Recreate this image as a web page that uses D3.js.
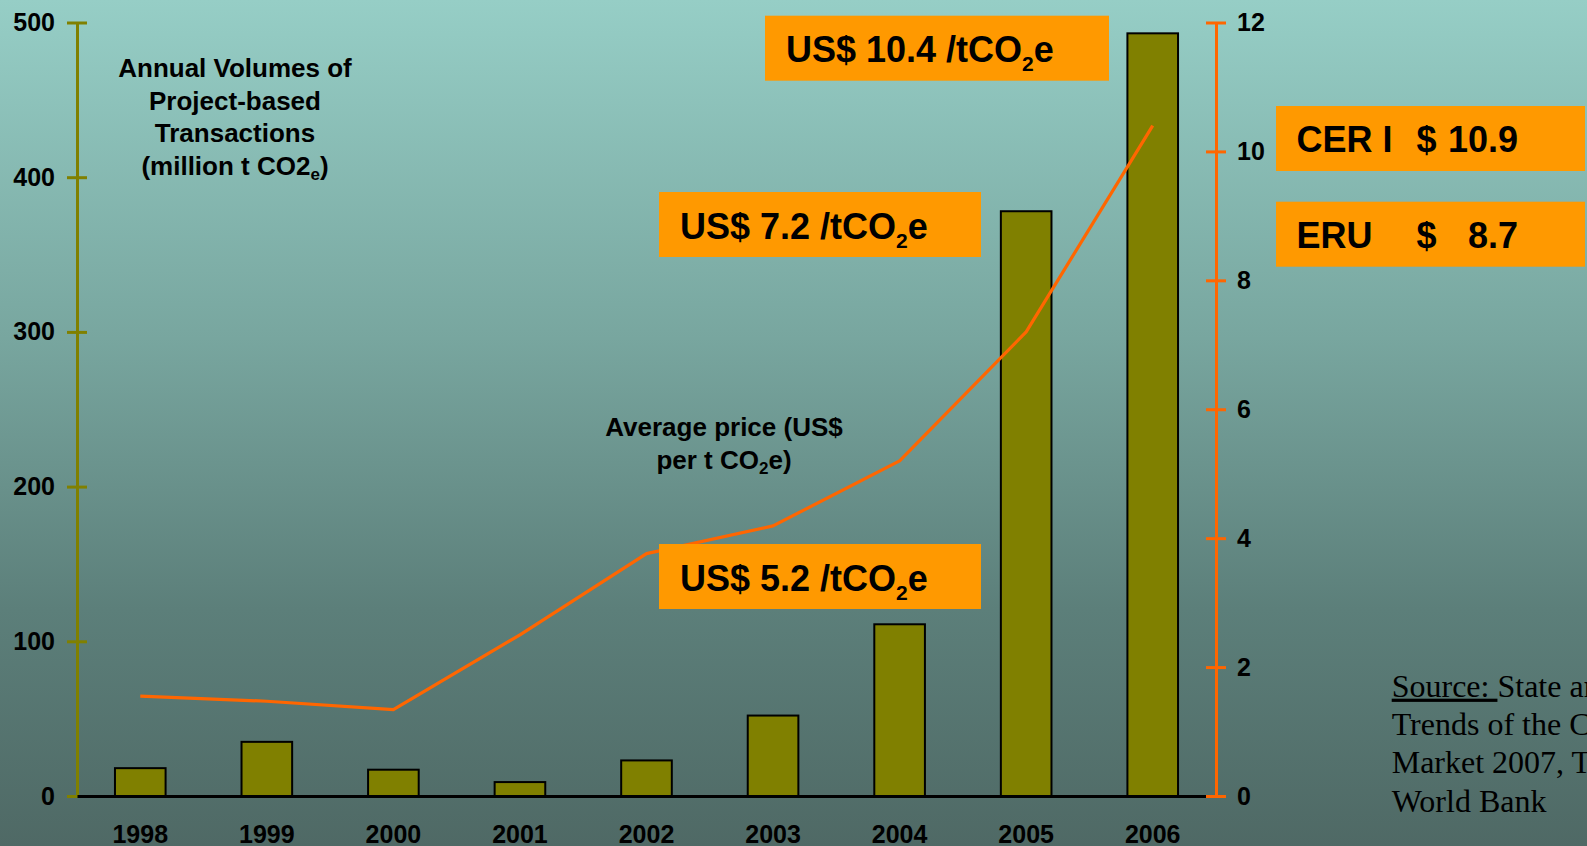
<!DOCTYPE html>
<html>
<head>
<meta charset="utf-8">
<script src="https://cdn.jsdelivr.net/npm/d3@7"></script>
<style>
  html, body { margin: 0; padding: 0; overflow: hidden; }
  svg { display: block; }
  text { font-family: "Liberation Sans", Arial, sans-serif; font-weight: bold; fill: #000; }
  .serif { font-family: "Liberation Serif", "Times New Roman", serif; font-weight: normal; }
</style>
</head>
<body>
<svg id="chart" width="1587" height="846"></svg>
<script>
// Project-based transactions: annual volumes (million t CO2e) and average price (US$/t CO2e)
const years = ["1998", "1999", "2000", "2001", "2002", "2003", "2004", "2005", "2006"];
const volumes = [18, 35, 17, 9, 23, 52, 111, 378, 493];
const prices = [1.55, 1.47, 1.34, 2.5, 3.76, 4.19, 5.2, 7.2, 10.4];
const volumeTicks = [0, 100, 200, 300, 400, 500];
const priceTicks = [0, 2, 4, 6, 8, 10, 12];
const priceCallouts = [
  { year: "2006", text: "US$ 10.4 /tCO", sub: "2", tail: "e" },
  { year: "2005", text: "US$ 7.2 /tCO", sub: "2", tail: "e" },
  { year: "2004", text: "US$ 5.2 /tCO", sub: "2", tail: "e" }
];
const unitPrices = [
  { name: "CER I", cur: "$", val: "10.9" },
  { name: "ERU", cur: "$", val: "8.7" }
];
const sourceLines = ["State and", "Trends of the Carbon", "Market 2007, The", "World Bank"];

const W = 1587, H = 846;
const plotLeft = 77, plotRight = 1216, plotTop = 22.5, plotBottom = 796;
const olive = "#808000", orange = "#FF6600", boxFill = "#FF9900";

const svg = d3.select("#chart");

// background gradient
const defs = svg.append("defs");
const grad = defs.append("linearGradient").attr("id", "bg")
  .attr("x1", 0).attr("y1", 0).attr("x2", 0).attr("y2", 1);
grad.append("stop").attr("offset", "0%").attr("stop-color", "#96CEC6");
grad.append("stop").attr("offset", "40%").attr("stop-color", "#78A69F");
grad.append("stop").attr("offset", "72%").attr("stop-color", "#5C7F7A");
grad.append("stop").attr("offset", "100%").attr("stop-color", "#4F6965");
svg.append("rect").attr("width", W).attr("height", H).attr("fill", "url(#bg)");

const x = d3.scaleBand().domain(years).range([plotLeft, plotRight]).paddingInner(0.6).paddingOuter(0.3);
const yL = d3.scaleLinear().domain([0, 500]).range([plotBottom, plotTop]);
const yR = d3.scaleLinear().domain([0, 12]).range([plotBottom, plotTop]);

// bars
svg.append("g").selectAll("rect").data(years).join("rect")
  .attr("x", d => x(d))
  .attr("y", (d, i) => yL(volumes[i]))
  .attr("width", x.bandwidth())
  .attr("height", (d, i) => plotBottom - yL(volumes[i]))
  .attr("fill", olive)
  .attr("stroke", "#000")
  .attr("stroke-width", 2);

function styleTickText(g) {
  g.selectAll(".tick text")
    .style("font-size", "25px")
    .style("font-family", "'Liberation Sans', Arial, sans-serif")
    .style("font-weight", "bold")
    .attr("fill", "#000");
}

// left axis (volumes)
const gL = svg.append("g").attr("transform", `translate(${plotLeft},0)`)
  .call(d3.axisLeft(yL).tickValues(volumeTicks).tickSize(0).tickPadding(22));
gL.select(".domain").attr("stroke", olive).attr("stroke-width", 3);
gL.selectAll(".tick line").attr("x1", -10).attr("x2", 10).attr("stroke", olive).attr("stroke-width", 3);
styleTickText(gL);

// bottom axis (years)
const gX = svg.append("g").attr("transform", `translate(0,${plotBottom})`)
  .call(d3.axisBottom(x).tickSize(0).tickPadding(29));
gX.select(".domain").attr("stroke", "#000").attr("stroke-width", 3);
styleTickText(gX);

// price line
const line = d3.line().x((d, i) => x(years[i]) + x.bandwidth() / 2).y(d => yR(d));
svg.append("path").datum(prices).attr("d", line)
  .attr("fill", "none").attr("stroke", orange).attr("stroke-width", 3.2).attr("stroke-linejoin", "round");

// right axis (prices)
const gR = svg.append("g").attr("transform", `translate(${plotRight},0)`)
  .call(d3.axisRight(yR).tickValues(priceTicks).tickSize(0).tickPadding(21));
gR.select(".domain").attr("stroke", orange).attr("stroke-width", 3);
gR.selectAll(".tick line").attr("x1", -10).attr("x2", 10).attr("stroke", orange).attr("stroke-width", 3);
styleTickText(gR);

// axis titles
const volTitle = svg.append("text").attr("text-anchor", "middle").style("font-size", "26px");
["Annual Volumes of", "Project-based", "Transactions"].forEach((t, i) => {
  volTitle.append("tspan").attr("x", 235).attr("y", 77 + i * 32.6).text(t);
});
volTitle.append("tspan").attr("x", 235).attr("y", 77 + 3 * 32.6).text("(million t CO2");
volTitle.append("tspan").attr("dy", 5).style("font-size", "17px").text("e");
volTitle.append("tspan").attr("dy", -5).text(")");

const priceTitle = svg.append("text").attr("text-anchor", "middle").style("font-size", "26px");
priceTitle.append("tspan").attr("x", 724).attr("y", 436).text("Average price (US$");
priceTitle.append("tspan").attr("x", 724).attr("y", 468.5).text("per t CO");
priceTitle.append("tspan").attr("dy", 5).style("font-size", "17px").text("2");
priceTitle.append("tspan").attr("dy", -5).text("e)");

// price callout boxes
const calloutBoxes = [
  { x: 765, y: 15.7, w: 344, h: 65 },
  { x: 659, y: 192, w: 322, h: 65 },
  { x: 659, y: 544, w: 322, h: 65 }
];
priceCallouts.forEach((c, i) => {
  const b = calloutBoxes[i];
  const g = svg.append("g");
  g.append("rect").attr("x", b.x).attr("y", b.y).attr("width", b.w).attr("height", b.h).attr("fill", boxFill);
  const t = g.append("text").attr("x", b.x + 21).attr("y", b.y + 46.7).style("font-size", "36px");
  t.append("tspan").text(c.text);
  t.append("tspan").attr("dy", 9).style("font-size", "21px").text(c.sub);
  t.append("tspan").attr("dy", -9).text(c.tail);
});

// CER / ERU price boxes
unitPrices.forEach((u, i) => {
  const y0 = 106 + i * 95.7;
  const g = svg.append("g");
  g.append("rect").attr("x", 1276).attr("y", y0).attr("width", 309).attr("height", 65).attr("fill", boxFill);
  g.append("text").attr("x", 1296.5).attr("y", y0 + 45.8).style("font-size", "36px").text(u.name);
  g.append("text").attr("x", 1416.5).attr("y", y0 + 45.8).style("font-size", "36px").text(u.cur);
  g.append("text").attr("x", 1448 + (u.val.length < 4 ? 20 : 0)).attr("y", y0 + 45.8).style("font-size", "36px").text(u.val);
});

// source note
const src = svg.append("text").attr("class", "serif").style("font-size", "32px");
const first = src.append("tspan").attr("x", 1391.7).attr("y", 696.7);
first.append("tspan").style("text-decoration", "underline").text("Source:\u00A0");
first.append("tspan").text(sourceLines[0]);
sourceLines.slice(1).forEach((t, i) => {
  src.append("tspan").attr("x", 1391.7).attr("y", 696.7 + (i + 1) * 38.33).text(t);
});
</script>
</body>
</html>
